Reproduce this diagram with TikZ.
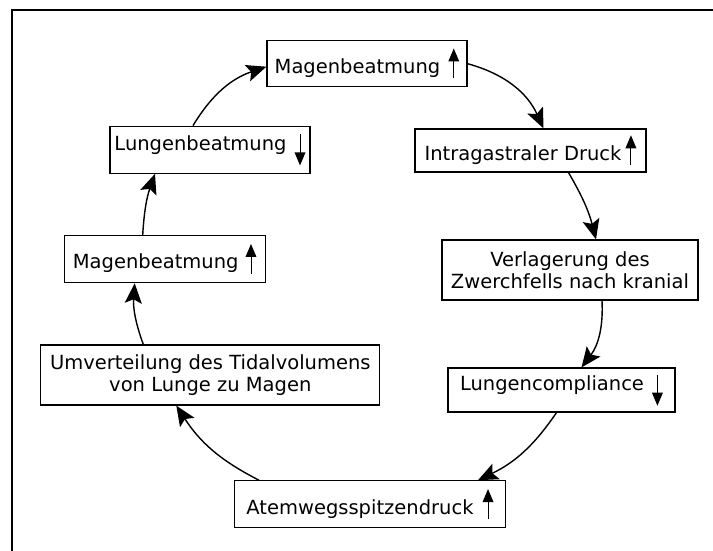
\documentclass[tikz,border=0pt]{standalone}
\usepackage{fontspec}
\setmainfont{DejaVu Sans}
\usetikzlibrary{arrows.meta,calc}
\newcommand\uparr[1][8pt]{\hspace{#1}\tikz[baseline=0pt]{\draw[line width=0.9pt] (0pt,-5pt) -- (0pt,14pt);\fill (-5.5pt,12pt) -- (0pt,25pt) -- (5.5pt,12pt) -- cycle;}}
\newcommand\dnarr[1][8pt]{\hspace{#1}\tikz[baseline=0pt]{\draw[line width=0.9pt] (0pt,16pt) -- (0pt,-4pt);\fill (-5.5pt,-2pt) -- (0pt,-15pt) -- (5.5pt,-2pt) -- cycle;}}
\begin{document}
\begin{tikzpicture}[x=1pt,y=1pt,
  box/.style={draw, line width=1.2pt, inner sep=0pt, align=center,
    font=\fontsize{19.5}{22.5}\selectfont},
  conn/.style={line width=1.4pt, -{Stealth[length=20pt,width=17pt,inset=4pt]}},
  frame/.style={line width=2.6pt}]
\useasboundingbox (0,0) rectangle (713,-551);
\draw[frame] (11.8,-551) -- (11.8,-10) -- (713,-10);
\node[box, minimum width=200pt, minimum height=46pt] (b1) at (367,-63.7) {Magenbeatmung\uparr};
\node[box, minimum width=231pt, minimum height=43pt] (b2) at (530.5,-150.5) {Intragastraler Druck\uparr[4pt]};
\node[box, minimum width=256pt, minimum height=60pt] (b3) at (570,-270) {Verlagerung des\\Zwerchfells nach kranial};
\node[box, minimum width=227pt, minimum height=44pt] (b4) at (561.5,-390) {Lungencompliance\dnarr};
\node[box, minimum width=271pt, minimum height=47pt] (b5) at (370,-504.3) {Atemwegsspitzendruck\uparr[9pt]};
\node[box, minimum width=339pt, minimum height=60pt] (b6) at (210.3,-375) {Umverteilung des Tidalvolumens\\von Lunge zu Magen};
\node[box, minimum width=201pt, minimum height=47pt] (b7) at (164.7,-259.2) {Magenbeatmung\uparr[7pt]};
\node[box, minimum width=200pt, minimum height=47pt] (b8) at (210,-149.7) {Lungenbeatmung\dnarr};
\draw[conn] (b1.east) to[bend left=25] ([xshift=13pt]b2.north);
\draw[conn] ([xshift=38pt]b2.south) to[bend left=8] ([xshift=26pt]b3.north);
\draw[conn] ([xshift=32pt]b3.south) to[bend left=20] ([xshift=20pt]b4.north);
\draw[conn] ([xshift=-5pt]b4.south) to[bend left=15] ([xshift=108pt]b5.north);
\draw[conn] ([xshift=-111pt]b5.north) to[bend left=15] ([xshift=-34pt]b6.south);
\draw[conn] ([xshift=-67pt]b6.north) to[bend left=12] ([xshift=-30pt]b7.south);
\draw[conn] ([xshift=-22pt]b7.north) to[bend left=8] ([xshift=-55pt]b8.south);
\draw[conn] ([xshift=-17pt]b8.north) to[bend left=20] ([yshift=-3pt]b1.west);
\end{tikzpicture}
\end{document}
